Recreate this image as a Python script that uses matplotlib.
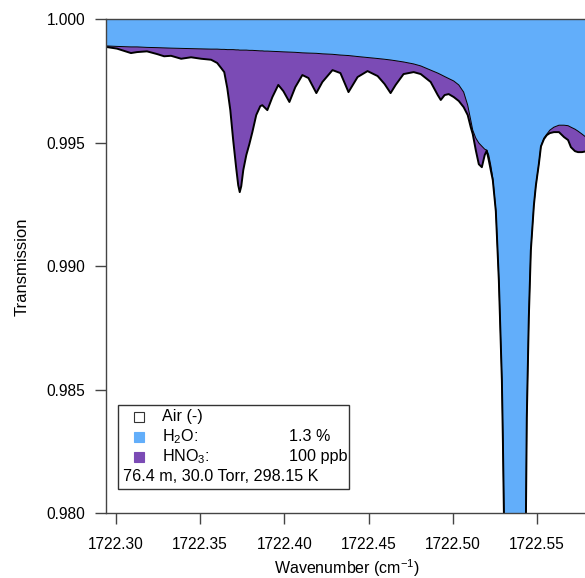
import matplotlib
matplotlib.use("Agg")
import matplotlib.pyplot as plt
from matplotlib.patches import Rectangle

plt.rcParams['font.family'] = ['Liberation Sans', 'DejaVu Sans']
plt.rcParams['mathtext.fontset'] = 'custom'
plt.rcParams['mathtext.rm'] = 'Liberation Sans'

# =========================
# data
# =========================
wavenumber = [
    1722.2940, 1722.3006, 1722.3089, 1722.3125, 1722.3184, 1722.3244, 1722.3286,
    1722.3327, 1722.3387, 1722.3446, 1722.3506, 1722.3565, 1722.3601, 1722.3625,
    1722.3643, 1722.3661, 1722.3679, 1722.3696, 1722.3714, 1722.3726, 1722.3735,
    1722.3744, 1722.3756, 1722.3774, 1722.3792, 1722.3810, 1722.3833, 1722.3857,
    1722.3869, 1722.3881, 1722.3899, 1722.3929, 1722.3964, 1722.3994, 1722.4030,
    1722.4065, 1722.4107, 1722.4143, 1722.4190, 1722.4226, 1722.4286, 1722.4333,
    1722.4381, 1722.4435, 1722.4494, 1722.4554, 1722.4595, 1722.4631, 1722.4661,
    1722.4708, 1722.4768, 1722.4810, 1722.4869, 1722.4911, 1722.4929, 1722.4952,
    1722.4976, 1722.5006, 1722.5036, 1722.5065, 1722.5089, 1722.5107, 1722.5119,
    1722.5137, 1722.5155, 1722.5173, 1722.5190, 1722.5202, 1722.5214, 1722.5226,
    1722.5238, 1722.5256, 1722.5265, 1722.5274, 1722.5283, 1722.5292, 1722.5298,
    1722.5304, 1722.5321, 1722.5372, 1722.5423, 1722.5435, 1722.5440, 1722.5452,
    1722.5464, 1722.5482, 1722.5494, 1722.5512, 1722.5524, 1722.5542, 1722.5559,
    1722.5577, 1722.5601, 1722.5631, 1722.5661, 1722.5685, 1722.5702, 1722.5726,
    1722.5744, 1722.5768, 1722.5798,
]

# water only transmission (upper edge of the purple band)
h2o = [
    0.99893, 0.99891, 0.99889, 0.99889, 0.99887, 0.99886, 0.99885,
    0.99884, 0.99883, 0.99882, 0.99881, 0.99880, 0.99880, 0.99879,
    0.99879, 0.99878, 0.99878, 0.99878, 0.99877, 0.99877, 0.99876,
    0.99876, 0.99876, 0.99876, 0.99875, 0.99875, 0.99874, 0.99873,
    0.99873, 0.99872, 0.99872, 0.99871, 0.99870, 0.99869, 0.99868,
    0.99867, 0.99865, 0.99864, 0.99863, 0.99861, 0.99859, 0.99856,
    0.99854, 0.99850, 0.99846, 0.99842, 0.99839, 0.99836, 0.99833,
    0.99828, 0.99820, 0.99812, 0.99795, 0.99783, 0.99777, 0.99769,
    0.99761, 0.99751, 0.99735, 0.99706, 0.99653, 0.99593, 0.99552,
    0.99520, 0.99500, 0.99487, 0.99475, 0.99471, 0.99451, 0.99410,
    0.99358, 0.99228, 0.99086, 0.98944, 0.98742, 0.98539, 0.98296,
    0.98004, 0.97700, 0.97520, 0.97700, 0.98004, 0.98389, 0.98794,
    0.99066, 0.99248, 0.99329, 0.99418, 0.99487, 0.99520, 0.99536,
    0.99552, 0.99564, 0.99572, 0.99572, 0.99570, 0.99564, 0.99556,
    0.99548, 0.99536, 0.99520,
]

# water + HNO3 transmission (black outline)
total = [
    0.99889, 0.99882, 0.99864, 0.99868, 0.99871, 0.99860, 0.99851,
    0.99853, 0.99841, 0.99847, 0.99841, 0.99837, 0.99824, 0.99803,
    0.99787, 0.99722, 0.99633, 0.99512, 0.99398, 0.99329, 0.99301,
    0.99325, 0.99390, 0.99451, 0.99495, 0.99544, 0.99613, 0.99649,
    0.99653, 0.99645, 0.99633, 0.99686, 0.99735, 0.99710, 0.99666,
    0.99726, 0.99775, 0.99763, 0.99702, 0.99747, 0.99795, 0.99783,
    0.99706, 0.99767, 0.99791, 0.99771, 0.99739, 0.99702, 0.99735,
    0.99779, 0.99787, 0.99779, 0.99747, 0.99694, 0.99674, 0.99694,
    0.99698, 0.99686, 0.99670, 0.99645, 0.99613, 0.99564, 0.99536,
    0.99471, 0.99414, 0.99402, 0.99451, 0.99469, 0.99431, 0.99390,
    0.99350, 0.99224, 0.99085, 0.98943, 0.98741, 0.98538, 0.98295,
    0.98003, 0.97699, 0.97519, 0.97699, 0.98003, 0.98388, 0.98793,
    0.99065, 0.99247, 0.99328, 0.99417, 0.99486, 0.99516, 0.99532,
    0.99540, 0.99544, 0.99544, 0.99524, 0.99512, 0.99483, 0.99467,
    0.99463, 0.99463, 0.99467,
]

x_ticks = [1722.30, 1722.35, 1722.40, 1722.45, 1722.50, 1722.55]
y_ticks = [0.980, 0.985, 0.990, 0.995, 1.000]

legend_rows = ["Air (-)", "H$_2$O:", "HNO$_3$:"]
legend_values = ["", "1.3 %", "100 ppb"]
conditions = "76.4 m, 30.0 Torr, 298.15 K"

c_air = "white"
c_h2o = "#62AEFA"
c_hno3 = "#7B4BB5"

# =========================
# figure
# =========================
fig = plt.figure(figsize=(5.85, 5.78), dpi=100)
ax = fig.add_axes([0.181, 0.1116, 0.826, 0.8547])

ax.fill_between(wavenumber, h2o, 1.0, color=c_h2o, lw=0)
ax.fill_between(wavenumber, total, h2o, color=c_hno3, lw=0)
ax.plot(wavenumber, h2o, color="black", lw=0.7)
ax.plot(wavenumber, total, color="black", lw=1.4)

ax.set_xlim(1722.2940, 1722.5810)
ax.set_ylim(0.980, 1.000)
ax.set_xticks(x_ticks)
ax.set_xticklabels([f"{t:.2f}" for t in x_ticks])
ax.set_yticks(y_ticks)
ax.set_yticklabels([f"{t:.3f}" for t in y_ticks])

for side in ["left", "bottom", "top"]:
    ax.spines[side].set_color("#444444")
    ax.spines[side].set_linewidth(1.0)
ax.spines["right"].set_visible(False)
ax.tick_params(direction="out", length=8, width=1, color="#444444",
               labelsize=11.2)
ax.tick_params(axis="x", pad=9)
ax.tick_params(axis="y", pad=7)

ax.set_xlabel("Wavenumber (cm$^{-1}$)", fontsize=11.5, labelpad=4)
ax.set_ylabel("Transmission", fontsize=12, labelpad=12)

# legend box drawn by hand (two text columns)
ax.add_patch(Rectangle((0.025, 0.0496), 0.479, 0.1703, transform=ax.transAxes,
                       facecolor="white", edgecolor="#333333", lw=1.0, zorder=5))
row_y = [0.1955, 0.155, 0.1145]
for label, value, col, yy in zip(legend_rows, legend_values,
                                 [c_air, c_h2o, c_hno3], row_y):
    edge = "#333333" if col == c_air else col
    ax.plot([0.0685], [yy], marker="s", ms=7, mfc=col, mec=edge, mew=0.8,
            transform=ax.transAxes, zorder=6, clip_on=False)
    ax.text(0.116, yy, label, transform=ax.transAxes, fontsize=11.6,
            va="center", ha="left", zorder=6)
    if value:
        ax.text(0.3797, yy, value, transform=ax.transAxes, fontsize=11.6,
                va="center", ha="left", zorder=6)
ax.text(0.0353, 0.074, conditions, transform=ax.transAxes, fontsize=11.6,
        va="center", ha="left", zorder=6)

fig.savefig("out.png", dpi=100)
